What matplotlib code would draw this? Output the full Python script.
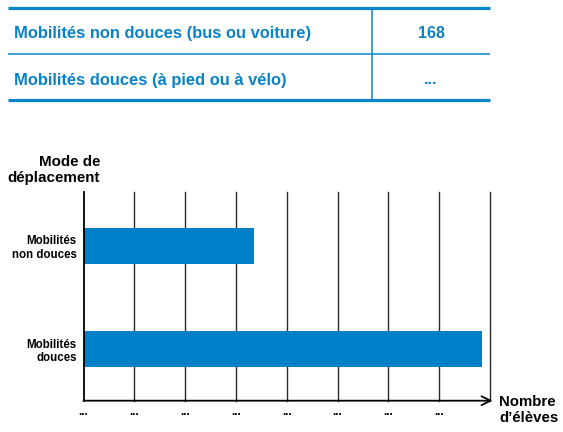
import matplotlib
matplotlib.use('Agg')
import matplotlib.pyplot as plt

plt.rcParams['font.family'] = ['Liberation Sans', 'DejaVu Sans']

# Data
table_rows = ['Mobilités non douces (bus ou voiture)', 'Mobilités douces (à pied ou à vélo)']
table_values = ['168', '...']
modes = ['Mobilités\nnon douces', 'Mobilités\ndouces']
counts = [168, 392]
x_ticks = [0, 50, 100, 150, 200, 250, 300, 350]
x_tick_labels = ['...'] * len(x_ticks)

BLUE_TXT = '#0a82c8'
BLUE_LINE = '#0a85cc'
BAR = '#0080c9'

DPI = 100
fig = plt.figure(figsize=(563 / DPI, 432 / DPI), dpi=DPI)

# Table at the top, drawn in pixel coordinates
tab = fig.add_axes([0, 0, 1, 1])
tab.set_xlim(0, 563)
tab.set_ylim(432, 0)
tab.axis('off')
tab.plot([8, 490], [7.5, 7.5], color=BLUE_LINE, lw=2.3, solid_capstyle='butt')
tab.plot([8, 490], [54, 54], color=BLUE_LINE, lw=1.1, solid_capstyle='butt')
tab.plot([8, 490], [100, 100], color=BLUE_LINE, lw=2.3, solid_capstyle='butt')
tab.plot([371.5, 371.5], [7.5, 100], color=BLUE_LINE, lw=1.1)
for i, (label, val) in enumerate(zip(table_rows, table_values)):
    yb = 37.8 + i * 46.7
    tab.text(14, yb, label, color=BLUE_TXT, fontsize=11.9, fontweight='bold',
             ha='left', va='baseline')
    tab.text(431, yb, val, color=BLUE_TXT, fontsize=11.5, fontweight='bold',
             ha='center', va='baseline')

# Bar chart
ax = fig.add_axes([83.5 / 563, 31.3 / 432, (490 - 83.5) / 563, (400.7 - 192) / 432])
ax.barh([1, 0], counts, height=0.35, color=BAR, zorder=3)
ax.set_xlim(0, 400)
ax.set_ylim(-0.5, 1.52)

for xv in x_ticks[1:] + [400]:
    ax.axvline(xv, color='#2a2a2a', lw=1.0, zorder=1, clip_on=False)

ax.set_xticks(x_ticks)
ax.set_xticklabels(x_tick_labels, fontsize=8.5, fontweight='bold')
ax.set_yticks([1, 0])
ax.set_yticklabels(modes, fontsize=8.3, fontweight='bold', linespacing=1.15)
ax.tick_params(axis='x', length=0, pad=4)
ax.tick_params(axis='y', length=0, pad=5)

for s in ['top', 'right', 'bottom']:
    ax.spines[s].set_visible(False)
ax.spines['left'].set_linewidth(1.3)
ax.spines['left'].set_zorder(4)

ax.annotate('', xy=(1.006, 0), xytext=(0, 0), xycoords='axes fraction',
            textcoords='axes fraction',
            arrowprops=dict(arrowstyle='->', lw=1.3, color='black',
                            shrinkA=0, shrinkB=0, mutation_scale=16))

fig.text(100 / 563, 1 - 170 / 432, 'Mode de\ndéplacement', fontsize=10.9,
         fontweight='bold', ha='right', va='center', multialignment='right',
         linespacing=1.15)
fig.text(499 / 563, 1 - 410 / 432, 'Nombre\nd’élèves', fontsize=10.8,
         fontweight='bold', ha='left', va='center', linespacing=1.15)

fig.savefig('out.png', dpi=DPI)
